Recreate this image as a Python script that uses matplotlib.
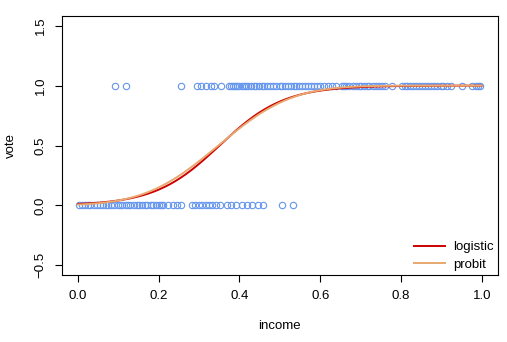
import math
import numpy as np
import matplotlib
matplotlib.use("Agg")
import matplotlib.pyplot as plt

plt.rcParams['font.family'] = ['Liberation Sans', 'DejaVu Sans']

income_no = [0.003, 0.01, 0.018, 0.025, 0.03, 0.04, 0.048, 0.055, 0.062, 0.07,
             0.075, 0.082, 0.09, 0.098, 0.105, 0.11, 0.118, 0.125, 0.13, 0.138,
             0.145, 0.15, 0.158, 0.165, 0.172, 0.18, 0.185, 0.192, 0.2, 0.205,
             0.21, 0.222, 0.235, 0.245, 0.256, 0.282, 0.29, 0.3, 0.308, 0.316,
             0.325, 0.333, 0.342, 0.352, 0.368, 0.38, 0.392, 0.405, 0.418, 0.432,
             0.445, 0.457, 0.505, 0.532]
income_yes = [0.091, 0.12, 0.256, 0.294, 0.305, 0.318, 0.33, 0.338, 0.355,
              0.375, 0.38, 0.385, 0.39, 0.395, 0.4, 0.405, 0.41, 0.415, 0.42,
              0.428, 0.435, 0.44, 0.448, 0.455, 0.46, 0.468, 0.475, 0.482, 0.49,
              0.5, 0.505, 0.512, 0.52, 0.528, 0.535, 0.54, 0.548, 0.555, 0.562,
              0.57, 0.578, 0.585, 0.592, 0.6, 0.61, 0.62, 0.63, 0.64, 0.655,
              0.66, 0.665, 0.672, 0.68, 0.688, 0.695, 0.7, 0.708, 0.715, 0.722,
              0.73, 0.738, 0.745, 0.752, 0.76, 0.778, 0.802, 0.81, 0.815, 0.822,
              0.83, 0.838, 0.845, 0.852, 0.86, 0.868, 0.875, 0.882, 0.89, 0.898,
              0.905, 0.915, 0.925, 0.95, 0.975, 0.985, 0.99, 0.995]

x = np.array(income_no + income_yes)
y = np.array([0] * len(income_no) + [1] * len(income_yes), dtype=float)


def norm_cdf(z):
    return np.array([0.5 * (1 + math.erf(v / math.sqrt(2))) for v in np.atleast_1d(z)])


def norm_pdf(z):
    return np.exp(-0.5 * z ** 2) / math.sqrt(2 * math.pi)


def fit_glm(link):
    # simple Newton / IRLS fit of a binary glm
    X = np.column_stack([np.ones_like(x), x])
    b = np.zeros(2)
    for _ in range(50):
        eta = X @ b
        if link == "logit":
            p = 1 / (1 + np.exp(-eta))
            d = p * (1 - p)
        else:
            p = norm_cdf(eta)
            d = norm_pdf(eta)
        p = np.clip(p, 1e-10, 1 - 1e-10)
        w = d ** 2 / (p * (1 - p))
        z = eta + (y - p) / d
        b = np.linalg.solve(X.T @ (X * w[:, None]), X.T @ (w * z))
    return b


b_logit = fit_glm("logit")
b_probit = fit_glm("probit")

grid = np.linspace(0, 1, 300)
p_logit = 1 / (1 + np.exp(-(b_logit[0] + b_logit[1] * grid)))
p_probit = norm_cdf(b_probit[0] + b_probit[1] * grid)

fig = plt.figure(figsize=(5.07, 3.42), dpi=100)
ax = fig.add_axes([0.122, 0.196, 0.86, 0.757])

ax.plot(x, y, 'o', mfc='none', mec='#6495ED', ms=4.6, mew=0.8)
ax.plot(grid, p_logit, color='#CD0000', lw=1.4, label='logistic')
ax.plot(grid, p_probit, color='#E8A870', lw=1.4, label='probit')

ax.set_xlim(-0.04, 1.04)
ax.set_ylim(-0.58, 1.58)
ax.set_xticks([0.0, 0.2, 0.4, 0.6, 0.8, 1.0])
ax.set_yticks([-0.5, 0.0, 0.5, 1.0, 1.5])
ax.set_xticklabels(['0.0', '0.2', '0.4', '0.6', '0.8', '1.0'])
ax.set_yticklabels(['\u22120.5', '0.0', '0.5', '1.0', '1.5'], rotation=90, va='center')
ax.tick_params(direction='out', length=5, width=0.8, labelsize=9.5, pad=6)
for s in ax.spines.values():
    s.set_linewidth(0.8)

ax.set_xlabel('income', fontsize=9.5, labelpad=13)
ax.set_ylabel('vote', fontsize=9.5, labelpad=13)

ax.legend(loc='lower right', frameon=False, fontsize=9.5, handlelength=2.4,
          labelspacing=0.4, borderaxespad=0.0, borderpad=0.3, handletextpad=0.6)

fig.savefig('out.png', dpi=100)
